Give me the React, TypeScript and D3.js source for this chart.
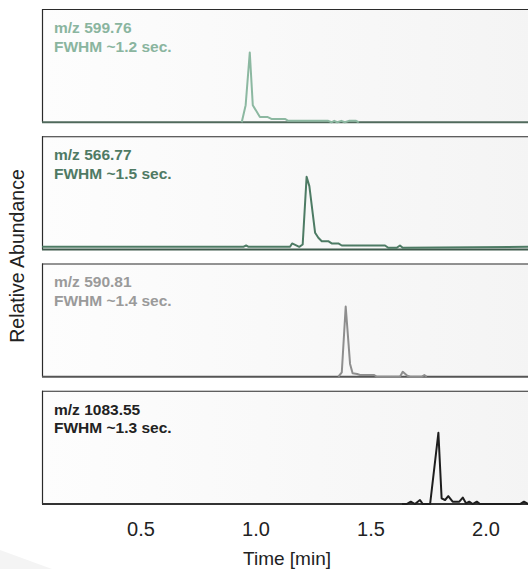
import * as d3 from 'd3';

// Chromatogram traces, time in min, abundance relative to each peak
const MZ_LABELS = ['m/z 599.76', 'm/z 566.77', 'm/z 590.81', 'm/z 1083.55'];
const FWHM_LABELS = ['FWHM ~1.2 sec.', 'FWHM ~1.5 sec.', 'FWHM ~1.4 sec.', 'FWHM ~1.3 sec.'];
const TIME_TICKS = [0.5, 1.0, 1.5, 2.0];

const t599 = [0.938, 0.955, 0.973, 0.986, 1.017, 1.049, 1.067, 1.126, 1.14, 1.314, 1.329, 1.34, 1.353, 1.371, 1.386, 1.404, 1.435, 1.447];
const v599 = [0, 24, 98, 24, 7.5, 7.5, 4.6, 4.6, 2, 2, 0, 2, 0, 2, 0, 2, 2, 0];

const t566 = [0.07, 0.945, 0.957, 0.968, 1.148, 1.157, 1.188, 1.203, 1.22, 1.232, 1.257, 1.271, 1.286, 1.314, 1.329, 1.358, 1.373, 1.561, 1.575, 1.612, 1.626, 1.638, 2.2];
const v566 = [3.8, 3.8, 5.6, 3.8, 3.8, 8.5, 3.8, 7, 102, 89, 23.5, 16.5, 11.7, 11.7, 8.5, 8.5, 5.6, 5.6, 2.4, 2.4, 5.6, 2.4, 3.8];

const t590 = [1.358, 1.373, 1.39, 1.409, 1.42, 1.44, 1.452, 1.514, 1.525, 1.626, 1.638, 1.658, 1.67, 1.72, 1.732, 1.742];
const v590 = [0, 6, 98.6, 18, 5, 3.8, 2.4, 2.4, 0, 0, 7, 1.4, 0, 0, 2.4, 0];

const t1083 = [1.635, 1.655, 1.673, 1.691, 1.713, 1.725, 1.757, 1.793, 1.807, 1.822, 1.836, 1.855, 1.884, 1.899, 1.913, 1.927, 1.942, 1.96, 1.974, 2.148, 2.165, 2.183];
const v1083 = [0, 0, 3.3, 0, 5.6, 0, 0, 100, 8, 5.6, 11, 3.3, 3.3, 9, 1, 3.3, 0, 3.3, 0, 0, 3.3, 0];

const TIMES = [t599, t566, t590, t1083];
const VALUES = [v599, v566, v590, v1083];

const TRACE_COLORS = ['#8cb8a1', '#4d7b64', '#8e8e8e', '#1e1e1e'];
const TEXT_COLORS = ['#8ab59f', '#4f7a64', '#9a9a9a', '#222222'];
const BASE_COLORS = ['#506a5c', '#3f5a4c', '#555555', '#333333'];

const W = 528;
const H = 569;
const FONT = '"Liberation Sans", Arial, Helvetica, sans-serif';

export default function App() {
  const left = 42;
  const x = d3.scaleLinear().domain([0, 2.2]).range([26, 532]);
  const band = d3.scaleBand<number>()
    .domain([0, 1, 2, 3])
    .range([9, 504])
    .paddingInner(0.11);
  const ph = band.bandwidth();

  const line = (i: number) => {
    const top = band(i)!;
    const y = d3.scaleLinear().domain([0, 159]).range([top + ph, top]);
    return d3.line<number>()
      .x((_, k) => x(TIMES[i][k]))
      .y(d => y(d))(VALUES[i]) || '';
  };

  return (
    <svg width={W} height={H} style={{ position: 'absolute', left: 0, top: 0 }} fontFamily={FONT}>
      <defs>
        <linearGradient id="panelBg" x1="0" x2="1" y1="0" y2="0">
          <stop offset="0" stopColor="#fdfdfd" />
          <stop offset="1" stopColor="#f4f4f4" />
        </linearGradient>
      </defs>
      <rect width={W} height={H} fill="#ffffff" />
      <polygon points={`0,550 52,${H} 0,${H}`} fill="#f4f4f4" />

      {[0, 1, 2, 3].map(i => {
        const top = band(i)!;
        const bottom = top + ph;
        return (
          <g key={i}>
            <rect x={left} y={top} width={W - left + 10} height={ph} fill="url(#panelBg)" />
            <line x1={left} x2={W + 10} y1={top + 0.5} y2={top + 0.5} stroke="#2b2b2b" strokeWidth={1.2} />
            <line x1={left + 0.5} x2={left + 0.5} y1={top} y2={bottom} stroke="#2b2b2b" strokeWidth={1.2} />
            <line x1={left} x2={W + 10} y1={bottom} y2={bottom} stroke={BASE_COLORS[i]} strokeWidth={2} />
            <path d={line(i)} fill="none" stroke={TRACE_COLORS[i]} strokeWidth={2} strokeLinejoin="round" />
            <text x={54} y={top + 24} fill={TEXT_COLORS[i]} fontSize={15.5} fontWeight="bold">{MZ_LABELS[i]}</text>
            <text x={54} y={top + 42.5} fill={TEXT_COLORS[i]} fontSize={15.5} fontWeight="bold">{FWHM_LABELS[i]}</text>
          </g>
        );
      })}

      {TIME_TICKS.map(t => (
        <text key={t} x={x(t)} y={536} textAnchor="middle" fontSize={20} fill="#222">{t.toFixed(1)}</text>
      ))}
      <text x={287} y={565} textAnchor="middle" fontSize={19} fill="#222">Time [min]</text>
      <text transform="translate(24,256) rotate(-90)" textAnchor="middle" fontSize={19.5} fill="#222">Relative Abundance</text>
    </svg>
  );
}
